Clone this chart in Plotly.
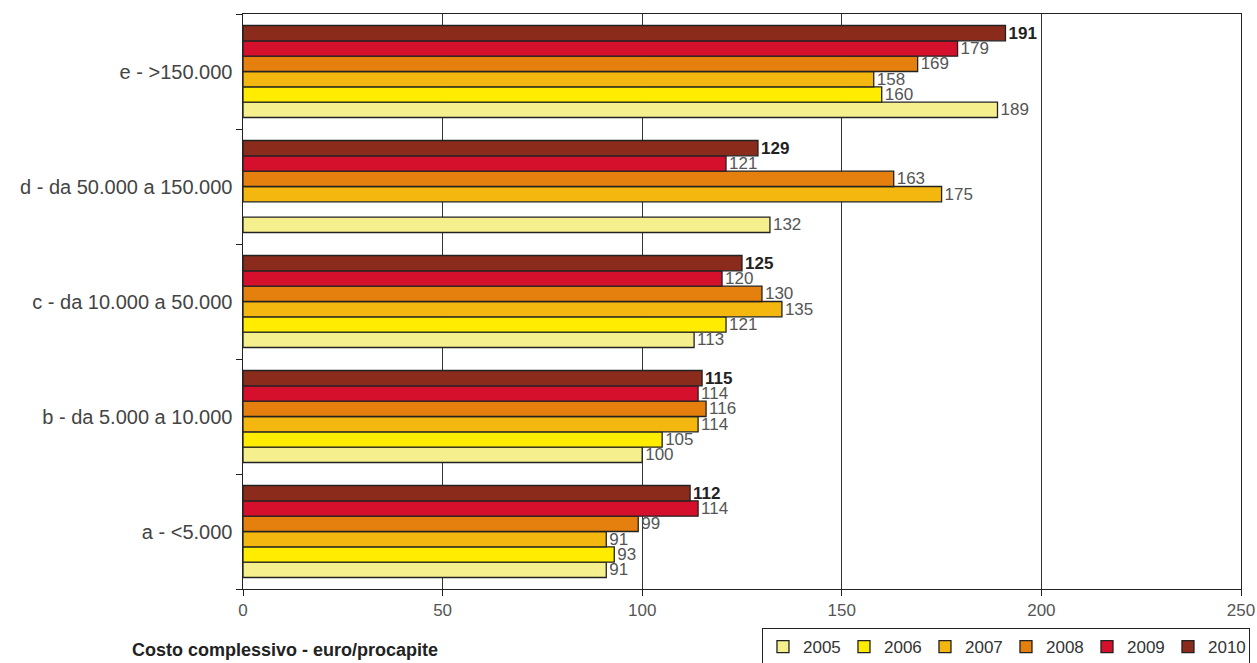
import plotly.graph_objects as go

categories = ["a - <5.000", "b - da 5.000 a 10.000", "c - da 10.000 a 50.000",
              "d - da 50.000 a 150.000", "e - >150.000"]
years = ["2005", "2006", "2007", "2008", "2009", "2010"]
v2005 = [91, 100, 113, 132, 189]
v2006 = [93, 105, 121, None, 160]
v2007 = [91, 114, 135, 175, 158]
v2008 = [99, 116, 130, 163, 169]
v2009 = [114, 114, 120, 121, 179]
v2010 = [112, 115, 125, 129, 191]
series = [v2005, v2006, v2007, v2008, v2009, v2010]
colors = ["#F6EF8E", "#FFEC00", "#F3B70F", "#E5800F", "#D5102C", "#8A2B1C"]
x_ticks = [0, 50, 100, 150, 200, 250]
title_text = "Costo complessivo - euro/procapite"

FONT = "Liberation Sans, Arial, sans-serif"

fig = go.Figure()
for i, (yr, vals, col) in enumerate(zip(years, series, colors)):
    bold = yr == "2010"
    fig.add_trace(go.Bar(
        x=vals, y=categories, name=yr, orientation="h",
        marker=dict(color=col, line=dict(color="#222222", width=1.3)),
        text=[("<b>%d</b>" % v if bold else "%d" % v) if v is not None else "" for v in vals],
        textposition="outside",
        textfont=dict(family=FONT, size=17, color="#222222" if bold else "#555555"),
        constraintext="none",
        cliponaxis=False,
    ))

fig.update_layout(
    width=1257, height=663,
    margin=dict(l=243, r=16, t=14, b=74, autoexpand=False),
    paper_bgcolor="white", plot_bgcolor="white",
    barmode="group", bargap=0.2, bargroupgap=0,
    font=dict(family=FONT, size=17, color="#444444"),
    xaxis=dict(range=[0, 250], tickvals=x_ticks, showgrid=True, gridcolor="#333333",
               gridwidth=1, showline=True, linecolor="#222222", linewidth=1, mirror=True,
               ticks="outside", ticklen=6, tickcolor="#222222", zeroline=False,
               automargin=False, tickfont=dict(size=17, color="#555555")),
    yaxis=dict(categoryorder="array", categoryarray=categories, showline=True,
               linecolor="#222222", linewidth=1, mirror=True, ticks="outside",
               tickson="boundaries", ticklen=6, tickcolor="#222222", automargin=False,
               tickfont=dict(size=20, color="#444444"), ticksuffix=" "),
    legend=dict(orientation="h", x=1.009, xanchor="right", y=-0.068, yanchor="top",
                bordercolor="#222222", borderwidth=1, bgcolor="white",
                font=dict(size=17, color="#333333"), traceorder="normal",
                itemwidth=30, tracegroupgap=0, entrywidth=36, entrywidthmode="pixels"),
    showlegend=True,
    annotations=[dict(text="<b>" + title_text + "</b>", x=0.042, y=-0.106,
                      xref="paper", yref="paper", xanchor="center", yanchor="middle",
                      showarrow=False, font=dict(size=18, color="#222222", family=FONT))],
)

fig.write_html("out.html", config={"displayModeBar": False},
               post_script="document.body.style.margin='0';document.body.style.overflow='hidden';")
